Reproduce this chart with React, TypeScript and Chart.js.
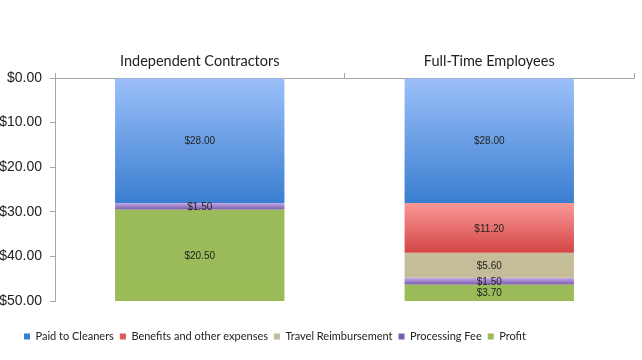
import React, { useEffect, useRef } from "react";
import { Chart, registerables } from "chart.js";

Chart.register(...registerables);

const categories = ["Independent Contractors", "Full-Time Employees"];
const seriesNames = [
  "Paid to Cleaners",
  "Benefits and other expenses",
  "Travel Reimbursement",
  "Processing Fee",
  "Profit",
];
const paidToCleaners = [28.0, 28.0];
const benefits = [null, 11.2];
const travel = [null, 5.6];
const processingFee = [1.5, 1.5];
const profit = [20.5, 3.7];
const yTicks = [0, 10, 20, 30, 40, 50];

const seriesValues = [paidToCleaners, benefits, travel, processingFee, profit];
const gradientStops: [string, string][] = [
  ["#9CC0FA", "#3A7ED0"],
  ["#FA9898", "#D44545"],
  ["#C5BE9A", "#C3BC97"],
  ["#C4ABE8", "#7C5EAC"],
  ["#9CBB5A", "#9BBA58"],
];
const legendColors = ["#4F88DA", "#E05858", "#C4BD97", "#9478C4", "#9BBB59"];

export default function App() {
  const ref = useRef<HTMLCanvasElement>(null);
  useEffect(() => {
    document.body.style.margin = "0";
    const canvas = ref.current!;
    const bg = (si: number) => (ctx: any) => {
      const chart = ctx.chart;
      if (ctx.type !== "data" || !chart.chartArea || !chart.scales.y) return legendColors[si];
      const di = ctx.dataIndex;
      let start = 0;
      for (let k = 0; k < si; k++) start += (seriesValues[k][di] as number) || 0;
      const end = start + ((seriesValues[si][di] as number) || 0);
      const y0 = chart.scales.y.getPixelForValue(start);
      const y1 = chart.scales.y.getPixelForValue(end);
      if (!isFinite(y0) || !isFinite(y1) || y0 === y1) return legendColors[si];
      const g = chart.ctx.createLinearGradient(0, y0, 0, y1);
      g.addColorStop(0, gradientStops[si][0]);
      g.addColorStop(1, gradientStops[si][1]);
      return g;
    };

    const labelPlugin = {
      id: "valueLabels",
      afterDatasetsDraw(chart: any) {
        const c = chart.ctx;
        c.save();
        c.font = "10px 'Liberation Sans', Arial, sans-serif";
        c.fillStyle = "#222";
        c.textAlign = "center";
        c.textBaseline = "middle";
        chart.data.datasets.forEach((ds: any, i: number) => {
          const meta = chart.getDatasetMeta(i);
          meta.data.forEach((el: any, j: number) => {
            const v = ds.data[j];
            if (v == null) return;
            const { x, y, base } = el.getProps(["x", "y", "base"], true);
            c.fillText("$" + Number(v).toFixed(2), x, (y + base) / 2 + 1);
          });
        });
        c.restore();
      },
    };

    const legendShift = {
      id: "legendShift",
      afterLayout(chart: any) {
        const l = chart.legend;
        if (!l) return;
        const w = l.right - l.left;
        l.left = 24 - 6;
        l.right = l.left + w;
        const h = l.bottom - l.top;
        l.top = 325;
        l.bottom = l.top + h;
      },
    };

    const chart = new Chart(canvas, {
      type: "bar",
      data: {
        labels: categories,
        datasets: seriesNames.map((name, i) => ({
          label: name,
          data: seriesValues[i] as any,
          backgroundColor: bg(i) as any,
          borderWidth: 0,
          barPercentage: 0.585,
          categoryPercentage: 1,
        })),
      },
      options: {
        animation: false,
        responsive: false,
        maintainAspectRatio: false,
        layout: { padding: { left: 0, right: 8, top: 0, bottom: 0 } },
        plugins: {
          tooltip: { enabled: false },
          legend: {
            position: "bottom",
            align: "start",
            labels: {
              boxWidth: 6,
              boxHeight: 6,
              padding: 6,
              color: "#222",
              font: { size: 11, family: "Lato, 'Liberation Sans', Arial, sans-serif" },
            },
          },
        },
        scales: {
          x: {
            position: "top",
            stacked: true,
            grid: {
              display: true,
              drawOnChartArea: false,
              drawTicks: true,
              tickLength: 5,
              color: "#A6A6A6",
              offset: true,
            },
            border: { display: true, color: "#A6A6A6", width: 1 },
            ticks: {
              color: "#222",
              padding: 3,
              font: { size: 14.5, family: "Lato, 'Liberation Sans', Arial, sans-serif" },
            },
            afterFit(scale: any) {
              scale.height = 78;
            },
          },
          y: {
            stacked: true,
            reverse: true,
            min: 0,
            max: 50,
            afterBuildTicks(scale: any) {
              scale.ticks = yTicks.map((v) => ({ value: v }));
            },
            grid: {
              display: true,
              drawOnChartArea: false,
              drawTicks: true,
              tickLength: 5,
              color: "#A6A6A6",
            },
            border: { display: true, color: "#A6A6A6", width: 1 },
            ticks: {
              color: "#222",
              padding: 8,
              font: { size: 14, family: "'Liberation Sans', Arial, sans-serif" },
              callback: (v: any) => "$" + Number(v).toFixed(2),
            },
            afterFit(scale: any) {
              scale.width = 55;
            },
          },
        },
      },
      plugins: [labelPlugin, legendShift],
    });
    const diff = chart.chartArea.bottom - 301;
    if (Math.abs(diff) > 0.5) {
      (chart.options.layout as any).padding.bottom = Math.max(0, diff);
      chart.update();
    }
    return () => chart.destroy();
  }, []);
  return (
    <div style={{ position: "absolute", left: 0, top: 0, width: 642, height: 360, background: "#fff" }}>
      <canvas ref={ref} width={642} height={360} style={{ width: 642, height: 360 }} />
    </div>
  );
}
